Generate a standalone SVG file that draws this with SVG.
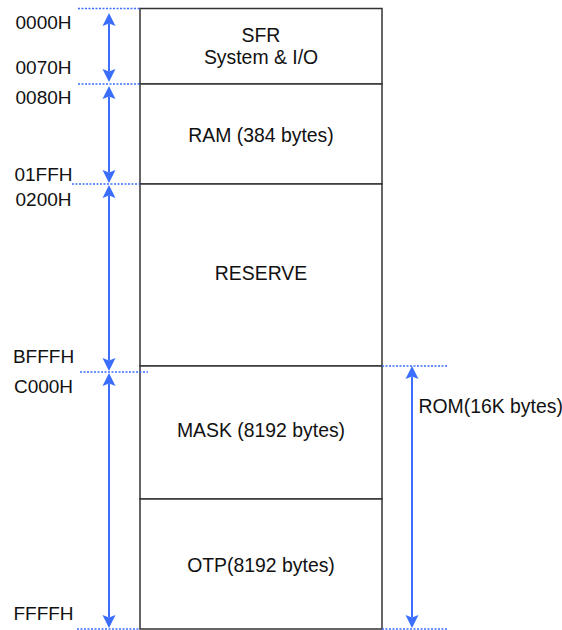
<svg xmlns="http://www.w3.org/2000/svg" width="562" height="630" viewBox="0 0 562 630">
<style>
.box{fill:#fff;stroke:#333;stroke-width:1.5}
.t{font-family:"Liberation Sans",Arial,sans-serif;font-size:19.4px;fill:#111;text-anchor:middle}
.l{font-family:"Liberation Sans",Arial,sans-serif;font-size:19px;fill:#111;text-anchor:middle}
.dot{stroke:#3b6eff;stroke-width:1.5;stroke-dasharray:2 1.5;fill:none}
.arr{stroke:#3b6eff;stroke-width:2;fill:none;marker-start:url(#ah);marker-end:url(#ah)}
</style>
<defs>
<marker id="ah" viewBox="0 -7 13 14" refX="2.5" refY="0" markerWidth="13" markerHeight="14" markerUnits="userSpaceOnUse" orient="auto-start-reverse">
<path d="M0,-6.5 L13,0 L0,6.5 L2.5,0 Z" fill="#3b6eff"/>
</marker>
</defs>
<g id="sfr"><rect class="box" x="140" y="8.5" width="242" height="75.5"/><text class="t" x="261" y="42">SFR</text><text class="t" x="261" y="64">System &amp; I/O</text></g>
<g id="ram"><rect class="box" x="140" y="84" width="242" height="100"/><text class="t" x="261" y="142">RAM (384 bytes)</text></g>
<g id="reserve"><rect class="box" x="140" y="184" width="242" height="182"/><text class="t" x="261" y="280">RESERVE</text></g>
<g id="mask"><rect class="box" x="140" y="366" width="242" height="133"/><text class="t" x="261" y="437">MASK (8192 bytes)</text></g>
<g id="otp"><rect class="box" x="140" y="499" width="242" height="130"/><text class="t" x="261" y="572">OTP(8192 bytes)</text></g>
<g id="labels">
<text class="l" x="43.5" y="29">0000H</text>
<text class="l" x="43.5" y="74">0070H</text>
<text class="l" x="43.5" y="104">0080H</text>
<text class="l" x="43.5" y="181">01FFH</text>
<text class="l" x="43.5" y="206">0200H</text>
<text class="l" x="43.5" y="363">BFFFH</text>
<text class="l" x="43.5" y="393">C000H</text>
<text class="l" x="43.5" y="620">FFFFH</text>
<text class="t" x="418.5" y="413" style="text-anchor:start">ROM(16K bytes)</text>
</g>
<g id="connectors">
<line class="dot" x1="78" y1="8.5" x2="140" y2="8.5"/>
<line class="dot" x1="78" y1="84" x2="140" y2="84"/>
<line class="dot" x1="72" y1="184" x2="140" y2="184"/>
<line class="dot" x1="80" y1="372" x2="148" y2="372"/>
<line class="dot" x1="77" y1="629" x2="140" y2="629"/>
<line class="dot" x1="382" y1="629" x2="448" y2="629"/>
<line class="dot" x1="382" y1="366" x2="448" y2="366"/>
<line class="arr" x1="109" y1="23.5" x2="109" y2="71.5"/>
<line class="arr" x1="109" y1="96.5" x2="109" y2="172.5"/>
<line class="arr" x1="109" y1="195.5" x2="109" y2="360.5"/>
<line class="arr" x1="109" y1="383.5" x2="109" y2="617.5"/>
<line class="arr" x1="412" y1="376.5" x2="412" y2="617.5"/>
</g>
</svg>
